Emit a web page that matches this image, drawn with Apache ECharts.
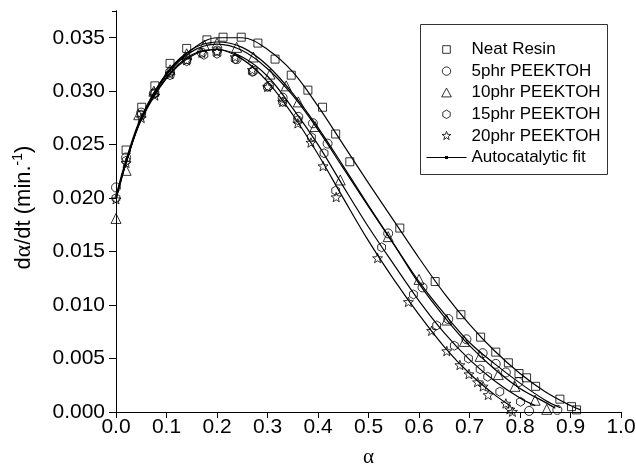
<!DOCTYPE html>
<html>
<head>
<meta charset="utf-8">
<script src="https://cdn.jsdelivr.net/npm/echarts@6/dist/echarts.min.js"></script>
<style>
html, body { margin: 0; padding: 0; background: #fff; }
#main { width: 636px; height: 470px; }
</style>
</head>
<body>
<div id="main"></div>
<script>
// measured points (alpha, d alpha/dt)
var neatX = [0.02, 0.051, 0.077, 0.107, 0.14, 0.18, 0.212, 0.248, 0.281, 0.315, 0.347, 0.38, 0.409, 0.435, 0.463, 0.562, 0.632, 0.683, 0.722, 0.752, 0.777, 0.798, 0.813, 0.831, 0.879, 0.902, 0.912];
var neatY = [0.0245, 0.0285, 0.0305, 0.0326, 0.0340, 0.0348, 0.03505, 0.03505, 0.0345, 0.0330, 0.0315, 0.0301, 0.0285, 0.0260, 0.0234, 0.0172, 0.0122, 0.0091, 0.0070, 0.0056, 0.0046, 0.0036, 0.0032, 0.0024, 0.0012, 0.0005, 0.0002];

var p5X = [0.0, 0.02, 0.05, 0.075, 0.107, 0.14, 0.17, 0.2, 0.239, 0.272, 0.303, 0.33, 0.361, 0.39, 0.419, 0.539, 0.607, 0.658, 0.694, 0.726, 0.752, 0.772, 0.797, 0.818, 0.874];
var p5Y = [0.0210, 0.0238, 0.0280, 0.0298, 0.0318, 0.0330, 0.0336, 0.0338, 0.0330, 0.0319, 0.0305, 0.0294, 0.0276, 0.0270, 0.0251, 0.0167, 0.01165, 0.0087, 0.0068, 0.0055, 0.0045, 0.0037, 0.0028, 0.0001, 0.0002];

var p10X = [0.0, 0.02, 0.045, 0.075, 0.107, 0.14, 0.175, 0.2, 0.239, 0.272, 0.305, 0.337, 0.361, 0.394, 0.444, 0.539, 0.6, 0.655, 0.69, 0.721, 0.757, 0.79, 0.83, 0.853];
var p10Y = [0.0181, 0.0226, 0.0278, 0.0300, 0.0320, 0.0335, 0.0343, 0.0345, 0.0341, 0.0332, 0.0316, 0.0305, 0.0290, 0.0267, 0.0217, 0.0164, 0.0124, 0.0086, 0.0066, 0.0052, 0.0035, 0.0024, 0.0011, 0.00025];

var p15X = [0.0, 0.02, 0.05, 0.077, 0.107, 0.14, 0.174, 0.2, 0.236, 0.27, 0.3, 0.33, 0.36, 0.387, 0.412, 0.435, 0.526, 0.589, 0.635, 0.67, 0.698, 0.721, 0.736, 0.76, 0.801];
var p15Y = [0.0200, 0.0235, 0.0278, 0.0298, 0.0315, 0.0328, 0.0334, 0.0335, 0.0330, 0.0318, 0.0304, 0.0290, 0.0273, 0.0257, 0.0242, 0.0207, 0.0154, 0.0110, 0.0081, 0.0062, 0.0050, 0.0040, 0.0033, 0.0019, 0.00096];

var p20X = [0.0, 0.02, 0.05, 0.077, 0.107, 0.14, 0.17, 0.2, 0.236, 0.27, 0.3, 0.33, 0.36, 0.386, 0.41, 0.436, 0.518, 0.579, 0.625, 0.655, 0.681, 0.699, 0.716, 0.727, 0.737, 0.772, 0.78, 0.785];
var p20Y = [0.0199, 0.0233, 0.0275, 0.0296, 0.0316, 0.0329, 0.0336, 0.0337, 0.0332, 0.0320, 0.0304, 0.0290, 0.0270, 0.0252, 0.0230, 0.0201, 0.0144, 0.0103, 0.0076, 0.0057, 0.0044, 0.00355, 0.0028, 0.0024, 0.0016, 0.0008, 0.00025, 0.00003];

// autocatalytic fit curves
var fitNeatX = [0, 0.02, 0.05, 0.1, 0.15, 0.2, 0.25, 0.3, 0.35, 0.4, 0.45, 0.5, 0.55, 0.6, 0.65, 0.7, 0.75, 0.8, 0.85, 0.9, 0.92];
var fitNeatY = [0.0202, 0.0236, 0.0276, 0.0316, 0.0339, 0.0350, 0.0350, 0.0339, 0.0318, 0.0286, 0.0250, 0.0214, 0.0179, 0.0144, 0.0111, 0.0082, 0.0057, 0.0036, 0.0019, 0.0006, 0.0002];
var fit5X = [0, 0.02, 0.05, 0.1, 0.15, 0.2, 0.25, 0.3, 0.35, 0.4, 0.45, 0.5, 0.55, 0.6, 0.65, 0.7, 0.75, 0.8, 0.85, 0.88];
var fit5Y = [0.0200, 0.0234, 0.0274, 0.0315, 0.0337, 0.0344, 0.0338, 0.0321, 0.0296, 0.0264, 0.0228, 0.0192, 0.0157, 0.0122, 0.0092, 0.0065, 0.0045, 0.0027, 0.0011, 0.0004];
var fit10X = [0, 0.02, 0.05, 0.1, 0.15, 0.2, 0.25, 0.3, 0.35, 0.4, 0.45, 0.5, 0.55, 0.6, 0.65, 0.7, 0.75, 0.8, 0.85, 0.87];
var fit10Y = [0.0199, 0.0233, 0.0275, 0.0317, 0.0339, 0.0346, 0.0341, 0.0324, 0.0298, 0.0266, 0.0230, 0.0193, 0.0157, 0.0120, 0.0089, 0.0062, 0.0040, 0.0022, 0.0009, 0.00035];
var fit15X = [0, 0.02, 0.05, 0.1, 0.15, 0.2, 0.25, 0.3, 0.35, 0.4, 0.45, 0.5, 0.55, 0.6, 0.65, 0.7, 0.75, 0.8, 0.83];
var fit15Y = [0.0200, 0.0233, 0.0273, 0.0312, 0.0333, 0.0339, 0.0332, 0.0314, 0.0284, 0.0250, 0.0211, 0.0173, 0.0138, 0.0104, 0.0074, 0.0049, 0.0029, 0.0013, 0.0006];
var fit20X = [0, 0.02, 0.05, 0.1, 0.15, 0.2, 0.25, 0.3, 0.35, 0.4, 0.45, 0.5, 0.55, 0.6, 0.65, 0.7, 0.75, 0.78];
var fit20Y = [0.0199, 0.0233, 0.0274, 0.0313, 0.0334, 0.0339, 0.0330, 0.0309, 0.0278, 0.0241, 0.0200, 0.0160, 0.0124, 0.0091, 0.0061, 0.0036, 0.0016, 0.0006];

var seriesNames = ['Neat Resin', '5phr PEEKTOH', '10phr PEEKTOH', '15phr PEEKTOH', '20phr PEEKTOH'];
var fitName = 'Autocatalytic fit';

var hexPath = 'path://M5,0L9.33,2.5L9.33,7.5L5,10L0.67,7.5L0.67,2.5Z';
var starPath = 'path://M5,0L6.23,3.3L9.76,3.45L7,5.65L7.94,9.05L5,7.1L2.06,9.05L3,5.65L0.24,3.45L3.77,3.3Z';

function pairs(xs, ys) {
    var out = [];
    for (var i = 0; i < xs.length; i++) out.push([xs[i], ys[i]]);
    return out;
}

var font = 'Liberation Sans, Arial, Helvetica, sans-serif';
var serif = 'Liberation Serif, DejaVu Serif, serif';
var myChart = echarts.init(document.getElementById('main'));

function scatter(name, xs, ys, symbol, size) {
    return {
        name: name,
        type: 'scatter',
        data: pairs(xs, ys),
        symbol: symbol,
        symbolSize: size,
        symbolKeepAspect: true,
        itemStyle: { color: 'rgba(255,255,255,0)', borderColor: '#000', borderWidth: 1 },
        emphasis: { disabled: true },
        z: 2
    };
}

function fit(xs, ys) {
    return {
        name: fitName,
        type: 'line',
        data: pairs(xs, ys),
        symbol: 'none',
        smooth: 0.35,
        lineStyle: { color: '#000', width: 1.2 },
        itemStyle: { color: '#000', borderWidth: 0 },
        emphasis: { disabled: true },
        z: 3
    };
}

var hollow = { color: 'rgba(255,255,255,0)', borderColor: '#000', borderWidth: 1 };

var option = {
    animation: false,
    backgroundColor: '#fff',
    grid: { left: 116, right: 15, top: 11, bottom: 58, outerBoundsMode: 'none' },
    legend: {
        orient: 'vertical',
        left: 426,
        top: 41,
        padding: 0,
        itemWidth: 40,
        itemHeight: 10,
        itemGap: 4.6,
        selectedMode: false,
        textStyle: { fontFamily: font, fontSize: 17, color: '#000' },
        data: [
            { name: seriesNames[0], itemStyle: hollow, icon: 'path://M0,0M40,10M16.2,1.2h7.6v7.6h-7.6z' },
            { name: seriesNames[1], itemStyle: hollow, icon: 'path://M0,0M40,10M24.2,5a4.2,4.2 0 1,1 -8.4,0a4.2,4.2 0 1,1 8.4,0z' },
            { name: seriesNames[2], itemStyle: hollow, icon: 'path://M0,0M40,10M20,0.4L24.8,9.2L15.2,9.2z' },
            { name: seriesNames[3], itemStyle: hollow, icon: 'path://M0,0M40,10M20,0.8L23.7,2.9L23.7,7.1L20,9.2L16.3,7.1L16.3,2.9z' },
            { name: seriesNames[4], itemStyle: hollow, icon: 'path://M0,0M40,10M20,0.4L21.12,3.46L24.37,3.58L21.81,5.59L22.7,8.72L20,6.9L17.3,8.72L18.19,5.59L15.63,3.58L18.88,3.46z' },
            { name: fitName, itemStyle: { color: '#000', borderWidth: 0 }, icon: 'path://M0,0M40,10M0,4.5h40v1h-40zM18.5,3.5h3v3h-3z' }
        ]
    },
    graphic: [{
        type: 'rect',
        shape: { x: 420.5, y: 24.5, width: 187, height: 150 },
        style: { fill: 'none', stroke: '#333', lineWidth: 1 },
        z: 10
    }],
    xAxis: [{
        type: 'value',
        min: 0,
        max: 1,
        interval: 0.1,
        name: 'α',
        nameLocation: 'middle',
        nameGap: 35,
        nameTextStyle: { fontFamily: serif, fontSize: 21, color: '#000' },
        axisLine: { lineStyle: { color: '#000', width: 1 } },
        axisTick: { inside: false, length: 6, lineStyle: { color: '#000' } },
        axisLabel: {
            margin: 5,
            color: '#000',
            fontFamily: font,
            fontSize: 21,
            formatter: function (v) { return v.toFixed(1); }
        },
        splitLine: { show: false }
    }, {
        type: 'value',
        position: 'top',
        min: 0,
        max: 1,
        interval: 0.1,
        axisLine: { show: true, lineStyle: { color: '#000', width: 1 } },
        axisTick: { show: true, inside: true, length: 4, lineStyle: { color: '#000' } },
        axisLabel: { show: false },
        splitLine: { show: false }
    }],
    yAxis: [{
        type: 'value',
        min: 0,
        max: 0.0375,
        interval: 0.005,
        name: '{a|d}{g|α}{a|/dt (min.}{s|-1}{a|)}',
        nameLocation: 'middle',
        nameRotate: 90,
        nameGap: 79,
        nameTextStyle: {
            color: '#000',
            padding: [0, 0, 0, 8],
            rich: {
                a: { fontFamily: font, fontSize: 22, color: '#000', lineHeight: 26 },
                g: { fontFamily: serif, fontSize: 23.5, color: '#000', lineHeight: 26 },
                s: { fontFamily: font, fontSize: 14, color: '#000', verticalAlign: 'top' }
            }
        },
        axisLine: { show: true, lineStyle: { color: '#000', width: 1 } },
        axisTick: { show: true, inside: false, length: 7, lineStyle: { color: '#000' } },
        axisLabel: {
            margin: 11,
            color: '#000',
            fontFamily: font,
            fontSize: 21,
            showMaxLabel: false,
            formatter: function (v) { return v.toFixed(3); }
        },
        splitLine: { show: false }
    }, {
        type: 'value',
        position: 'right',
        min: 0,
        max: 0.0375,
        interval: 0.005,
        axisLine: { show: true, lineStyle: { color: '#000', width: 1 } },
        axisTick: { show: true, inside: true, length: 4, lineStyle: { color: '#000' } },
        axisLabel: { show: false },
        splitLine: { show: false }
    }],
    series: [
        scatter(seriesNames[0], neatX, neatY, 'rect', 8),
        scatter(seriesNames[1], p5X, p5Y, 'circle', 9),
        scatter(seriesNames[2], p10X, p10Y, 'triangle', 10),
        scatter(seriesNames[3], p15X, p15Y, hexPath, 9),
        scatter(seriesNames[4], p20X, p20Y, starPath, 10),
        fit(fitNeatX, fitNeatY),
        fit(fit5X, fit5Y),
        fit(fit10X, fit10Y),
        fit(fit15X, fit15Y),
        fit(fit20X, fit20Y)
    ]
};

myChart.setOption(option, true);
</script>
</body>
</html>
